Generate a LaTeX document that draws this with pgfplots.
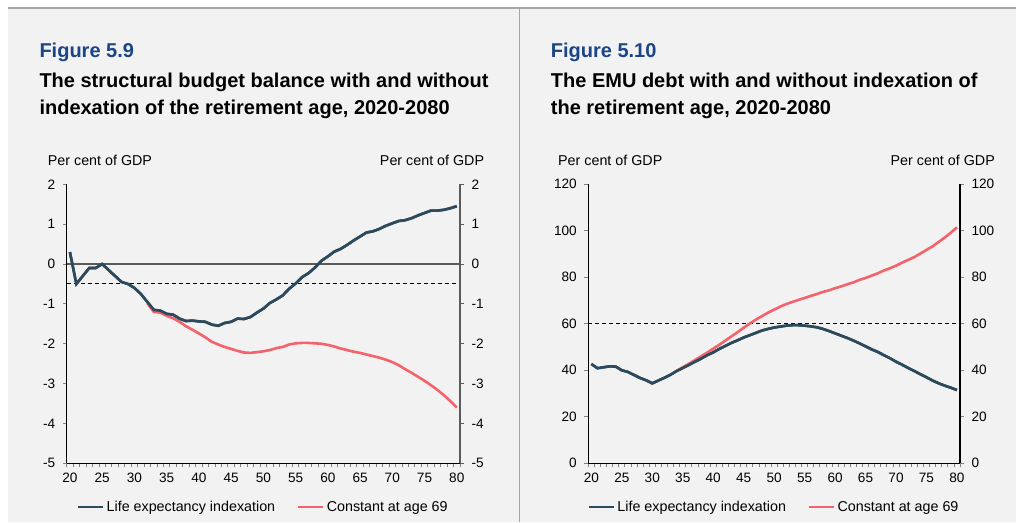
\documentclass[border=0pt]{standalone}
\usepackage{pgfplots}
\pgfplotsset{compat=1.18}
\usepackage{pgfplotstable}
\usepackage{fontspec}
\setmainfont{Liberation Sans}
\definecolor{bg}{HTML}{F2F2F2}
\definecolor{framegray}{HTML}{A6A6A6}
\definecolor{lblue}{HTML}{2C4A5C}
\definecolor{lred}{HTML}{F4626B}
\definecolor{titleblue}{HTML}{1B4585}
\definecolor{zerogray}{HTML}{5A5A5A}
\newcommand\lab{\fontsize{14.3}{17}\selectfont}
\newcommand\tlab{\fontsize{13.6}{16}\selectfont}
\newcommand\ttl{\fontsize{20}{24}\selectfont\bfseries}

\pgfplotstableread{
year val
20 0.30
21 -0.50
22 -0.30
23 -0.10
24 -0.10
25 0.00
26 -0.15
27 -0.30
28 -0.45
29 -0.50
30 -0.60
31 -0.75
32 -0.95
33 -1.15
34 -1.17
35 -1.25
36 -1.27
37 -1.37
38 -1.43
39 -1.42
40 -1.44
41 -1.45
42 -1.52
43 -1.55
44 -1.48
45 -1.45
46 -1.37
47 -1.38
48 -1.33
49 -1.22
50 -1.12
51 -0.98
52 -0.89
53 -0.79
54 -0.62
55 -0.49
56 -0.33
57 -0.23
58 -0.09
59 0.08
60 0.19
61 0.31
62 0.38
63 0.48
64 0.59
65 0.69
66 0.79
67 0.82
68 0.88
69 0.96
70 1.02
71 1.08
72 1.10
73 1.15
74 1.22
75 1.28
76 1.34
77 1.34
78 1.36
79 1.40
80 1.45
}\balblue

\pgfplotstableread{
year val
32 -0.98
33 -1.20
34 -1.22
35 -1.30
36 -1.36
37 -1.45
38 -1.56
39 -1.65
40 -1.74
41 -1.84
42 -1.95
43 -2.02
44 -2.08
45 -2.13
46 -2.18
47 -2.22
48 -2.23
49 -2.21
50 -2.19
51 -2.16
52 -2.11
53 -2.08
54 -2.02
55 -1.99
56 -1.98
57 -1.98
58 -1.99
59 -2.00
60 -2.03
61 -2.07
62 -2.12
63 -2.16
64 -2.20
65 -2.23
66 -2.27
67 -2.31
68 -2.35
69 -2.40
70 -2.46
71 -2.54
72 -2.64
73 -2.73
74 -2.83
75 -2.93
76 -3.04
77 -3.16
78 -3.29
79 -3.44
80 -3.60
}\balred

\pgfplotstableread{
year val
20 42.7
21 40.9
22 41.3
23 41.7
24 41.6
25 40.0
26 39.3
27 38.0
28 36.7
29 35.7
30 34.4
31 35.6
32 36.8
33 38.1
34 39.7
35 41.0
36 42.3
37 43.7
38 45.0
39 46.5
40 47.7
41 49.2
42 50.5
43 51.8
44 52.9
45 54.1
46 55.1
47 56.1
48 57.1
49 57.8
50 58.4
51 58.8
52 59.2
53 59.4
54 59.4
55 59.2
56 58.9
57 58.5
58 57.8
59 56.9
60 55.9
61 54.9
62 53.9
63 52.8
64 51.6
65 50.3
66 49.0
67 47.9
68 46.5
69 45.2
70 43.7
71 42.4
72 41.0
73 39.7
74 38.3
75 37.0
76 35.6
77 34.4
78 33.4
79 32.5
80 31.5
}\debtblue

\pgfplotstableread{
year val
34 39.8
35 41.3
36 42.8
37 44.4
38 46.0
39 47.6
40 49.3
41 51.0
42 52.8
43 54.6
44 56.4
45 58.3
46 60.1
47 61.8
48 63.3
49 64.8
50 66.1
51 67.4
52 68.5
53 69.4
54 70.3
55 71.1
56 72.0
57 72.8
58 73.7
59 74.4
60 75.3
61 76.1
62 77.0
63 77.8
64 78.9
65 79.7
66 80.7
67 81.7
68 82.9
69 83.9
70 85.0
71 86.3
72 87.5
73 88.7
74 90.2
75 91.8
76 93.3
77 95.2
78 97.1
79 99.2
80 101.5
}\debtred

\pgfplotsset{
  base/.style={
    scale only axis, height=279pt,
    xmin=19.5, xmax=80.5,
    tick align=outside,
    major tick length=4pt,
    tick style={line width=0.8pt},
    ticklabel style={font=\tlab},
    /pgf/number format/assume math mode=true,
    axis line style={line width=1.2pt},
  },
  mainax/.style={
    base,
    axis x line*=bottom, axis y line*=left,
    xtick={19.5,20.5,...,80.5},
    xticklabel={\mbox{}},
    extra x ticks={20,25,...,80},
    extra x tick style={xticklabel={\pgfmathprintnumber{\tick}}, major tick length=0pt},
    xticklabel style={yshift=-6.5pt},
    yticklabel style={xshift=-4pt},
    legend style={draw=none, fill=none, font=\lab, legend columns=2,
      at={(0.5,-0.156)}, anchor=center,
      /tikz/every even column/.append style={column sep=20pt}},
    legend image code/.code={\draw[#1] (0pt,0pt) -- (25pt,0pt);},
  },
  rightax/.style={
    base,
    axis y line*=right, axis x line=none,
    yticklabel style={xshift=4pt},
  },
}

\begin{document}
\begin{tikzpicture}[x=1pt,y=1pt]
\path[use as bounding box] (0,0) rectangle (1016,522);
\fill[white] (0,0) rectangle (1016,522);
\fill[bg] (8,0) rectangle (1016,514);
\draw[framegray, line width=1.3pt] (8,514) -- (1016,514);
\draw[framegray, line width=1.3pt] (519.3,0) -- (519.3,514);

% titles left
\node[anchor=base west, inner sep=0, font=\ttl, text=titleblue] at (39.3,464.7) {Figure 5.9};
\node[anchor=base west, inner sep=0, font=\ttl] at (39.3,434.7) {The structural budget balance with and without};
\node[anchor=base west, inner sep=0, font=\ttl] at (39.3,407.7) {indexation of the retirement age, 2020-2080};
\node[anchor=base west, inner sep=0, font=\lab] at (47.7,356.3) {Per cent of GDP};
\node[anchor=base east, inner sep=0, font=\lab] at (484.3,356.3) {Per cent of GDP};

% titles right
\node[anchor=base west, inner sep=0, font=\ttl, text=titleblue] at (550.7,464.7) {Figure 5.10};
\node[anchor=base west, inner sep=0, font=\ttl] at (550.7,434.7) {The EMU debt with and without indexation of};
\node[anchor=base west, inner sep=0, font=\ttl] at (550.7,407.7) {the retirement age, 2020-2080};
\node[anchor=base west, inner sep=0, font=\lab] at (558,356.3) {Per cent of GDP};
\node[anchor=base east, inner sep=0, font=\lab] at (995,356.3) {Per cent of GDP};

% left chart
\begin{axis}[mainax, at={(66.7pt,58.7pt)}, anchor=south west, width=393.3pt,
  ymin=-5, ymax=2, ytick={-5,-4,...,2}]
\addplot[zerogray, line width=2pt, forget plot] coordinates {(19.5,0) (80.5,0)};
\addplot[black, line width=1pt, dash pattern=on 4pt off 3pt, forget plot] coordinates {(19.5,-0.5) (80.5,-0.5)};
\addplot[lblue, line width=2.6pt] table[x=year,y=val] {\balblue};
\addlegendentry{Life expectancy indexation}
\addplot[lred, line width=2.6pt] table[x=year,y=val] {\balred};
\addlegendentry{Constant at age 69}
\addplot[lblue, line width=2.6pt, forget plot] table[x=year,y=val] {\balblue};
\end{axis}
\begin{axis}[rightax, at={(66.7pt,58.7pt)}, anchor=south west, width=393.3pt,
  ymin=-5, ymax=2, ytick={-5,-4,...,2}, axis line style={zerogray}, tick style={zerogray}]
\end{axis}

% right chart
\begin{axis}[mainax, at={(588.3pt,58.7pt)}, anchor=south west, width=371.7pt,
  ymin=0, ymax=120, ytick={0,20,...,120}]
\addplot[black, line width=1pt, dash pattern=on 4pt off 3pt, forget plot] coordinates {(19.5,60) (80.5,60)};
\addplot[lblue, line width=2.6pt] table[x=year,y=val] {\debtblue};
\addlegendentry{Life expectancy indexation}
\addplot[lred, line width=2.6pt] table[x=year,y=val] {\debtred};
\addlegendentry{Constant at age 69}
\addplot[lblue, line width=2.6pt, forget plot] table[x=year,y=val] {\debtblue};
\end{axis}
\begin{axis}[rightax, at={(588.3pt,58.7pt)}, anchor=south west, width=371.7pt,
  ymin=0, ymax=120, ytick={0,20,...,120}]
\end{axis}
\end{tikzpicture}
\end{document}
